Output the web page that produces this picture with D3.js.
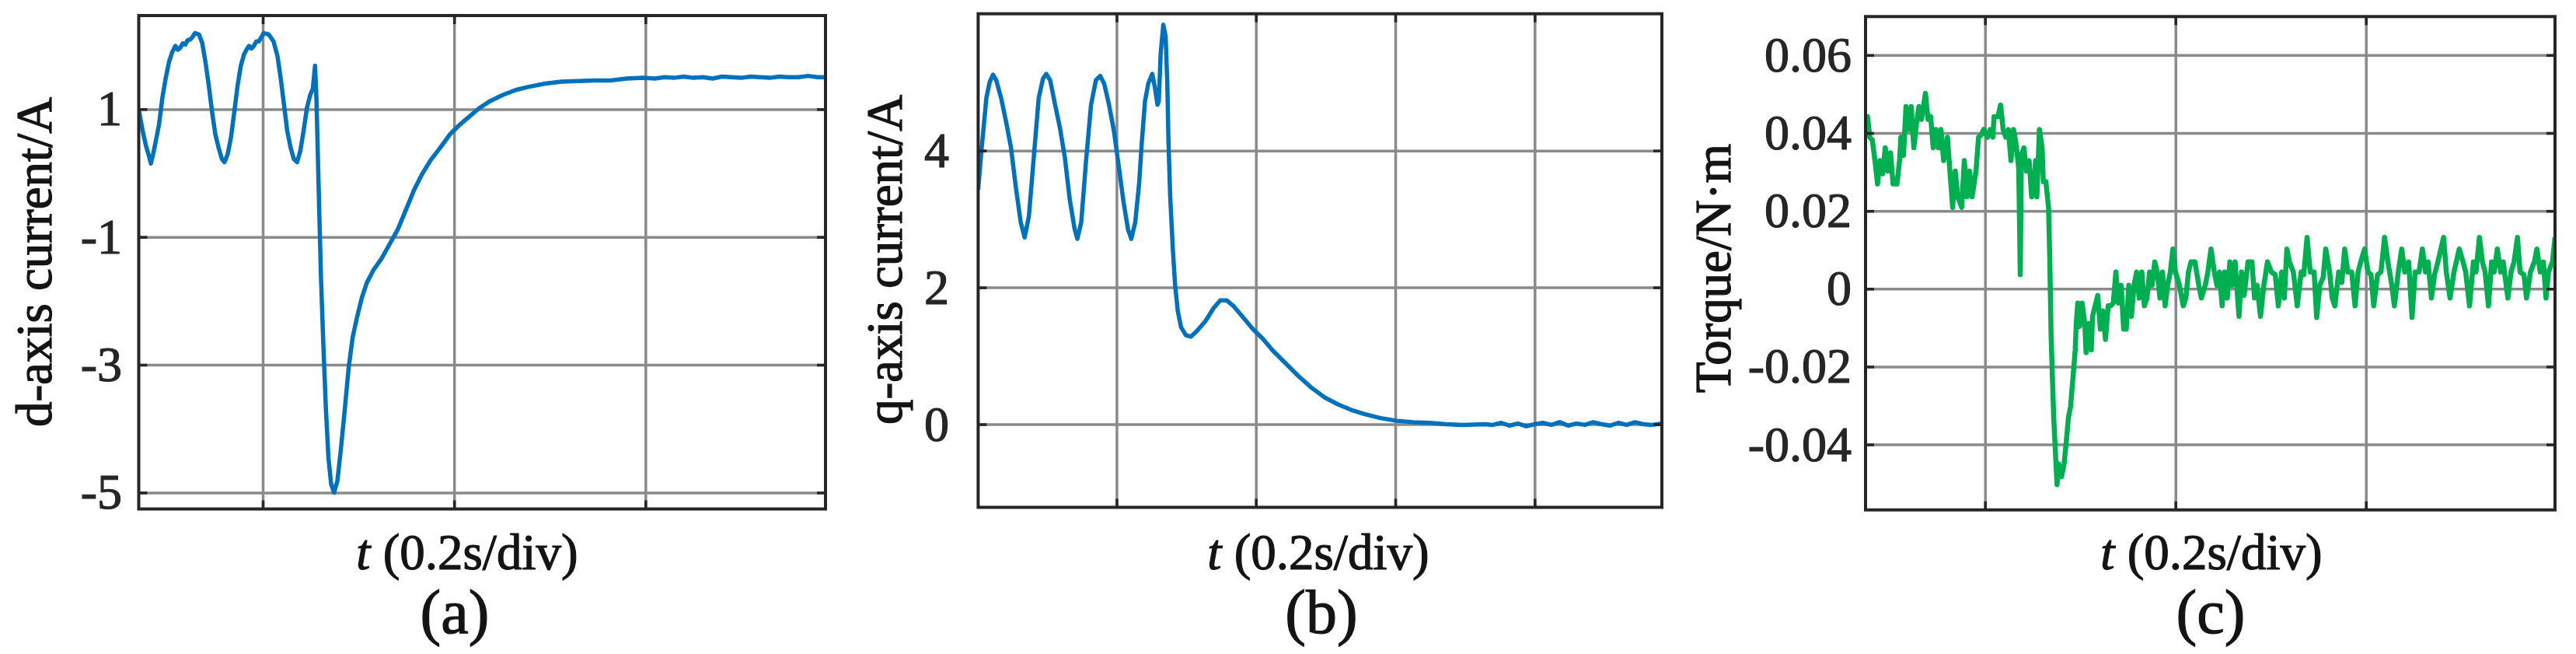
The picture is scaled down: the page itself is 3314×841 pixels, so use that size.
<!DOCTYPE html>
<html>
<head>
<meta charset="utf-8">
<script src="https://cdn.jsdelivr.net/npm/d3@7"></script>
<style>
  body { margin: 0; background: #fff; }
  svg { display: block; background: #fff; }
</style>
</head>
<body>
<div id="plot"></div>
<script>
// ---- data (time in s, 0.2 s per division) ----
const dTime = [0.0704,0.0745,0.0779,0.0814,0.0831,0.0855,0.0882,0.0916,0.0950,0.0985,0.1019,0.1053,0.1087,0.1112,0.1138,0.1165,0.1190,0.1215,0.1241,0.1266,0.1292,0.1333,0.1367,0.1402,0.1436,0.1470,0.1504,0.1538,0.1573,0.1600,0.1634,0.1668,0.1703,0.1737,0.1771,0.1805,0.1830,0.1856,0.1882,0.1908,0.1933,0.1959,0.2010,0.2062,0.2113,0.2154,0.2188,0.2222,0.2256,0.2291,0.2325,0.2359,0.2393,0.2427,0.2462,0.2496,0.2523,0.2547,0.2561,0.2574,0.2591,0.2609,0.2633,0.2660,0.2687,0.2715,0.2745,0.2780,0.2814,0.2858,0.2899,0.2940,0.2985,0.3036,0.3087,0.3156,0.3241,0.3327,0.3412,0.3498,0.3583,0.3668,0.3754,0.3857,0.3959,0.4062,0.4164,0.4267,0.4369,0.4506,0.4643,0.4780,0.4951,0.5122,0.5293,0.5463,0.5634,0.5805,0.5976,0.61,0.62,0.63,0.64,0.65,0.66,0.67,0.68,0.69,0.70,0.71,0.72,0.73,0.74,0.75,0.76,0.77,0.78,0.7882];
const dCurrent = [1.00,0.66,0.43,0.25,0.15,0.30,0.50,0.76,1.17,1.48,1.73,1.89,1.99,1.93,1.96,2.03,2.01,2.08,2.09,2.13,2.19,2.17,2.04,1.73,1.37,0.96,0.61,0.40,0.22,0.17,0.30,0.56,0.96,1.37,1.68,1.86,1.93,1.99,1.95,1.99,2.06,2.06,2.19,2.17,2.06,1.83,1.48,1.07,0.66,0.40,0.22,0.17,0.35,0.66,1.02,1.22,1.32,1.68,1.17,0.40,-0.62,-1.65,-2.67,-3.69,-4.46,-4.87,-5.00,-4.82,-4.36,-3.69,-3.03,-2.57,-2.26,-1.95,-1.72,-1.52,-1.34,-1.11,-0.88,-0.57,-0.26,-0.01,0.20,0.40,0.61,0.76,0.89,1.02,1.12,1.22,1.30,1.35,1.40,1.43,1.44,1.45,1.45,1.48,1.49,1.48,1.50,1.49,1.51,1.49,1.50,1.48,1.51,1.50,1.49,1.51,1.50,1.49,1.51,1.50,1.50,1.52,1.50,1.50];

const qTime = [0.0014,0.0061,0.0132,0.0179,0.0226,0.0273,0.0343,0.0413,0.0484,0.0554,0.0625,0.0681,0.0742,0.0812,0.0883,0.0944,0.0991,0.1047,0.1118,0.1188,0.1258,0.1329,0.1399,0.1437,0.1493,0.1563,0.1634,0.1704,0.1765,0.1822,0.1892,0.1962,0.2033,0.2103,0.2164,0.2211,0.2268,0.2324,0.2361,0.2408,0.2455,0.2512,0.2549,0.2587,0.2606,0.2634,0.2671,0.2704,0.2728,0.2746,0.2770,0.2807,0.2840,0.2878,0.2925,0.2995,0.3066,0.3159,0.3277,0.3394,0.3488,0.3582,0.3676,0.3817,0.3957,0.4098,0.4239,0.4427,0.4615,0.4802,0.4990,0.5178,0.5366,0.5553,0.5788,0.6023,0.6258,0.6492,0.6727,0.6962,0.7281,0.740,0.752,0.764,0.776,0.788,0.800,0.812,0.824,0.836,0.848,0.860,0.872,0.884,0.896,0.908,0.920,0.932,0.944,0.956,0.968,0.9826];
const qCurrent = [3.43,4.00,4.77,5.00,5.11,5.03,4.77,4.43,4.05,3.47,2.95,2.73,3.04,3.90,4.77,5.05,5.12,5.03,4.67,4.33,3.90,3.28,2.85,2.71,2.95,3.86,4.67,5.03,5.09,4.98,4.67,4.29,3.76,3.23,2.85,2.71,2.95,3.52,4.10,4.72,4.98,5.12,4.93,4.67,4.72,5.43,5.84,5.67,5.00,4.10,3.33,2.57,2.04,1.66,1.42,1.30,1.28,1.37,1.51,1.70,1.81,1.81,1.73,1.56,1.39,1.25,1.08,0.89,0.70,0.53,0.39,0.29,0.21,0.15,0.09,0.05,0.03,0.02,0.00,-0.01,0.00,-0.01,0.02,-0.02,0.01,-0.03,0.00,0.02,-0.01,0.03,-0.02,0.01,-0.01,0.03,0.00,-0.02,0.02,-0.01,0.03,0.00,-0.01,0.01];

const torqueTime = [0.0745,0.0767,0.0789,0.0816,0.0844,0.0871,0.0898,0.0925,0.0952,0.0980,0.1007,0.1034,0.1075,0.1102,0.1116,0.1143,0.1170,0.1197,0.1225,0.1252,0.1279,0.1306,0.1333,0.1374,0.1401,0.1429,0.1456,0.1483,0.1510,0.1537,0.1565,0.1605,0.1633,0.1660,0.1687,0.1714,0.1755,0.1782,0.1810,0.1837,0.1864,0.1905,0.1932,0.1959,0.1986,0.2027,0.2054,0.2082,0.2095,0.2136,0.2163,0.2190,0.2218,0.2245,0.2272,0.2299,0.2327,0.2354,0.2370,0.2381,0.2408,0.2435,0.2463,0.2490,0.2517,0.2531,0.2544,0.2571,0.2599,0.2612,0.2639,0.2667,0.2680,0.2694,0.2721,0.2740,0.2756,0.2775,0.2803,0.2830,0.2857,0.2876,0.2898,0.2925,0.2947,0.2958,0.2974,0.2993,0.3020,0.3048,0.3061,0.3088,0.3116,0.3129,0.3156,0.3184,0.3211,0.3238,0.3265,0.3293,0.3320,0.3347,0.3374,0.3401,0.3429,0.3456,0.3483,0.3510,0.3537,0.3565,0.3592,0.3619,0.3646,0.3673,0.3701,0.3728,0.3755,0.3782,0.3809,0.3837,0.3864,0.3891,0.3918,0.3946,0.3973,0.4000,0.4041,0.4082,0.4109,0.4136,0.4163,0.4204,0.4245,0.4272,0.4313,0.4340,0.4373,0.4408,0.4435,0.4462,0.4490,0.4517,0.4544,0.4571,0.4599,0.4626,0.4653,0.4667,0.4694,0.4721,0.4762,0.4803,0.4830,0.4857,0.4893,0.4925,0.4966,0.5007,0.5048,0.5080,0.5116,0.5143,0.5170,0.5197,0.5238,0.5279,0.5320,0.5347,0.5382,0.5415,0.5456,0.5483,0.5516,0.5551,0.5578,0.5619,0.5646,0.5674,0.5714,0.5747,0.5777,0.5810,0.5850,0.5886,0.5918,0.5946,0.5986,0.6022,0.6054,0.6082,0.6122,0.6158,0.6196,0.6231,0.6272,0.6299,0.6340,0.6376,0.6408,0.6449,0.6484,0.6517,0.6558,0.6593,0.6626,0.6653,0.6688,0.6721,0.6756,0.6816,0.6844,0.6884,0.6925,0.6980,0.7020,0.7048,0.7088,0.7129,0.7156,0.7192,0.7224,0.7252,0.7287,0.7320,0.7347,0.7380,0.7415,0.7442,0.7491,0.7524,0.7556,0.7592,0.7619,0.7660,0.7687,0.7728,0.7769,0.7796,0.7831,0.7864,0.7891,0.7918,0.7959,0.7986];
const torque = [0.0389,0.0442,0.0389,0.0382,0.0329,0.0269,0.0329,0.0295,0.0362,0.0302,0.0349,0.0269,0.0269,0.0329,0.0389,0.0342,0.0468,0.0409,0.0468,0.0362,0.0422,0.0468,0.0435,0.0502,0.0435,0.0442,0.0362,0.0409,0.0362,0.0409,0.0329,0.0389,0.0295,0.0209,0.0302,0.0236,0.0209,0.0329,0.0236,0.0302,0.0236,0.0302,0.0389,0.0395,0.0409,0.0389,0.0409,0.0389,0.0442,0.0442,0.0472,0.0409,0.0389,0.0409,0.0329,0.0409,0.0369,0.0309,0.0036,0.0342,0.0362,0.0302,0.0329,0.0236,0.0275,0.0329,0.0236,0.0409,0.0362,0.0275,0.0275,0.0209,0.0076,-0.0124,-0.0330,-0.0423,-0.0503,-0.0450,-0.0483,-0.0450,-0.0383,-0.0330,-0.0303,-0.0224,-0.0157,-0.0090,-0.0037,-0.0097,-0.0037,-0.0090,-0.0164,-0.0090,-0.0157,-0.0071,-0.0044,-0.0017,-0.0104,-0.0057,-0.0130,-0.0044,-0.0044,-0.0037,0.0043,-0.0037,0.0009,-0.0104,-0.0104,0.0009,-0.0071,0.0009,0.0043,-0.0024,0.0043,-0.0044,-0.0024,0.0043,0.0009,0.0069,0.0043,-0.0024,0.0043,-0.0044,0.0009,0.0043,0.0102,0.0043,0.0009,-0.0044,-0.0024,0.0043,0.0069,0.0069,0.0009,-0.0024,0.0009,0.0043,0.0102,0.0043,0.0009,0.0043,-0.0044,0.0043,-0.0024,0.0069,0.0009,0.0069,-0.0024,-0.0071,0.0043,-0.0017,0.0069,0.0069,-0.0024,0.0009,-0.0071,0.0003,0.0069,0.0043,0.0036,-0.0044,0.0043,-0.0024,0.0102,0.0069,0.0043,-0.0044,0.0043,0.0036,0.0132,0.0043,0.0043,-0.0074,0.0009,0.0029,0.0102,0.0043,-0.0024,-0.0044,0.0043,0.0016,0.0102,0.0043,0.0043,-0.0044,0.0043,0.0069,0.0102,0.0043,0.0036,-0.0044,0.0036,0.0043,0.0132,0.0069,0.0009,-0.0044,0.0043,0.0102,0.0043,0.0069,-0.0074,0.0043,0.0043,0.0102,0.0043,0.0069,-0.0024,0.0036,0.0069,0.0132,0.0043,-0.0024,0.0043,0.0102,0.0069,0.0043,-0.0044,0.0069,0.0043,0.0132,0.0069,0.0043,-0.0044,0.0069,0.0043,0.0102,0.0043,0.0069,-0.0024,0.0043,0.0069,0.0132,0.0043,0.0036,-0.0024,0.0043,0.0069,0.0102,0.0043,0.0069,-0.0024,0.0043,0.0069,0.0132];

const dTicks = [1, -1, -3, -5];
const qTicks = [0, 2, 4];
const torqueTicks = [-0.04, -0.02, 0, 0.02, 0.04, 0.06];
const timeTicks3 = [0.2, 0.4, 0.6];
const timeTicks4 = [0.2, 0.4, 0.6, 0.8];
const yLabels = ["d-axis current/A", "q-axis current/A", "Torque/N\u00b7m"];
const tags = ["(a)", "(b)", "(c)"];

// ---- layout ----
const FONT = "Liberation Serif";
const GRID = "#8a8a8a", AXIS = "#262626", INK = "#141414";

const panels = [
  { x0: 178.5, x1: 1062, y0: 20, y1: 654.5, xd: [0.0704, 0.7882], yd: [-5.257, 2.465],
    t: dTime, v: dCurrent, xt: timeTicks3, yt: dTicks, color: "#0072bd", lw: 5.5,
    labX: 66, labY: 337, tickEnd: 157, xLabX: 601, tagX: 585 },
  { x0: 1258.4, x1: 2138, y0: 17.7, y1: 652.4, xd: [0.0014, 0.9826], yd: [-1.215, 6.0],
    t: qTime, v: qCurrent, xt: timeTicks4, yt: qTicks, color: "#0072bd", lw: 5.5,
    labX: 1160, labY: 334, tickEnd: 1221, xLabX: 1696, tagX: 1700 },
  { x0: 2400, x1: 3287, y0: 21.3, y1: 655.7, xd: [0.0745, 0.7986], yd: [-0.0568, 0.0699],
    t: torqueTime, v: torque, xt: timeTicks3, yt: torqueTicks, color: "#00b050", lw: 6.5,
    labX: 2226, labY: 345, tickEnd: 2382, xLabX: 2845, tagX: 2844 }
];

const svg = d3.select("#plot").append("svg")
    .attr("width", 3314)
    .attr("height", 841)
    .attr("font-family", FONT);

// serif text, slightly heavier like the scanned figure
function ink(sel, size, color) {
    sel.attr("font-family", FONT)
        .style("font-family", FONT)
        .style("font-size", size + "px")
        .attr("fill", color)
        .attr("stroke", color)
        .attr("stroke-width", 1.2);
}

panels.forEach((p, i) => {
    const w = p.x1 - p.x0, h = p.y1 - p.y0;
    const x = d3.scaleLinear().domain(p.xd).range([0, w]);
    const y = d3.scaleLinear().domain(p.yd).range([h, 0]);

    const g = svg.append("g").attr("transform", `translate(${p.x0},${p.y0})`);

    // grid
    g.append("g")
        .attr("transform", `translate(0,${h})`)
        .call(d3.axisBottom(x).tickValues(p.xt).tickSize(-h).tickFormat(""))
        .call(a => a.select(".domain").remove())
        .selectAll("line").attr("stroke", GRID).attr("stroke-width", 3.5);
    g.append("g")
        .call(d3.axisLeft(y).tickValues(p.yt).tickSize(-w).tickFormat(""))
        .call(a => a.select(".domain").remove())
        .selectAll("line").attr("stroke", GRID).attr("stroke-width", 3.5);

    // signal
    g.append("clipPath").attr("id", "clip" + i)
        .append("rect").attr("width", w).attr("height", h);
    const pts = p.t.map((t, k) => [t, p.v[k]]);
    g.append("path")
        .datum(pts)
        .attr("clip-path", `url(#clip${i})`)
        .attr("fill", "none")
        .attr("stroke", p.color)
        .attr("stroke-width", p.lw)
        .attr("stroke-linejoin", "round")
        .attr("d", d3.line().x(d => x(d[0])).y(d => y(d[1])));

    // inner tick marks on all four sides
    const tk = 11;
    [[d3.axisLeft(y), 0, 0, p.yt], [d3.axisRight(y), w, 0, p.yt],
     [d3.axisBottom(x), 0, h, p.xt], [d3.axisTop(x), 0, 0, p.xt]].forEach(([ax, tx, ty, vals]) => {
        g.append("g")
            .attr("transform", `translate(${tx},${ty})`)
            .call(ax.tickValues(vals).tickSize(-tk).tickFormat(""))
            .call(a => a.select(".domain").remove())
            .selectAll("line").attr("stroke", AXIS).attr("stroke-width", 3.5);
    });

    // frame
    g.append("rect")
        .attr("width", w).attr("height", h)
        .attr("fill", "none").attr("stroke", AXIS).attr("stroke-width", 4);

    // tick labels
    g.append("g")
        .attr("font-family", FONT)
        .call(d3.axisLeft(y).tickValues(p.yt).tickSize(0)
            .tickPadding(p.x0 - p.tickEnd).tickFormat(d => String(d)))
        .call(a => a.select(".domain").remove())
        .selectAll("text")
        .call(ink, 64, AXIS);

    // y label
    svg.append("text")
        .attr("transform", `translate(${p.labX},${p.labY}) rotate(-90)`)
        .attr("text-anchor", "middle")
        .call(ink, 65, INK)
        .text(yLabels[i]);

    // x label
    const xl = svg.append("text")
        .attr("x", p.xLabX).attr("y", 732)
        .attr("text-anchor", "middle")
        .call(ink, 65, INK);
    xl.append("tspan").style("font-style", "italic").text("t");
    xl.append("tspan").text(" (0.2s/div)");

    // panel tag
    svg.append("text")
        .attr("x", p.tagX).attr("y", 814)
        .attr("text-anchor", "middle")
        .call(ink, 80, INK)
        .text(tags[i]);
});
</script>
</body>
</html>
